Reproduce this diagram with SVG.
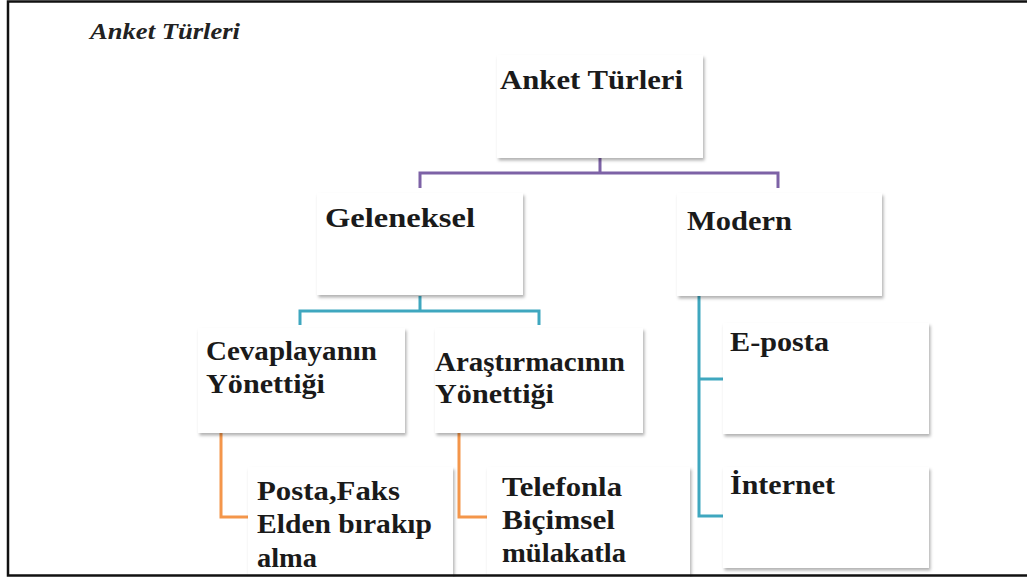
<svg xmlns="http://www.w3.org/2000/svg" width="1027" height="577" viewBox="0 0 1027 577">
<defs>
<filter id="sh" x="-10%" y="-10%" width="125%" height="130%">
<feDropShadow dx="1.5" dy="2.5" stdDeviation="1.8" flood-color="#000" flood-opacity="0.3"/>
</filter>
<style>
.box{fill:#fff;filter:url(#sh)}
.t{font-family:"Liberation Serif","Times New Roman",serif;font-weight:bold;font-size:27px;fill:#1a1a1a}
.ttl{font-family:"Liberation Serif","Times New Roman",serif;font-weight:bold;font-style:italic;font-size:23px;fill:#222}
.c{fill:none;stroke-width:3}
.pu{stroke:#7d62a6}
.tl{stroke:#3fa7bf}
.or{stroke:#f4964a}
</style>
</defs>
<rect width="1027" height="577" fill="#fff"/>
<text class="ttl" x="90" y="39" textLength="150" lengthAdjust="spacingAndGlyphs">Anket Türleri</text>
<g id="connectors">
<path class="c pu" d="M600 158 V173 M420 188 V173 H778 V188"/>
<path class="c tl" d="M420 296 V311 M300 325 V311 H539 V325"/>
<path class="c or" d="M221 433 V517 H248"/>
<path class="c or" d="M459 433 V517 H487"/>
<path class="c tl" d="M699 296 V516 H723 M699 379 H723"/>
</g>
<g id="n-root"><rect class="box" x="497" y="55" width="206" height="103"/><text class="t" x="500" y="89" textLength="183" lengthAdjust="spacingAndGlyphs">Anket Türleri</text></g>
<g id="n-geleneksel"><rect class="box" x="317" y="193" width="206" height="102"/><text class="t" x="325" y="227" textLength="150" lengthAdjust="spacingAndGlyphs">Geleneksel</text></g>
<g id="n-modern"><rect class="box" x="677" y="193" width="205" height="103"/><text class="t" x="687" y="230" textLength="105" lengthAdjust="spacingAndGlyphs">Modern</text></g>
<g id="n-cevaplayan"><rect class="box" x="198" y="328" width="207" height="105"/><text class="t" x="206" y="360" textLength="171" lengthAdjust="spacingAndGlyphs">Cevaplayanın</text><text class="t" x="206" y="393" textLength="119" lengthAdjust="spacingAndGlyphs">Yönettiği</text></g>
<g id="n-arastirmaci"><rect class="box" x="435" y="328" width="208" height="105"/><text class="t" x="435" y="371" textLength="190" lengthAdjust="spacingAndGlyphs">Araştırmacının</text><text class="t" x="435" y="403" textLength="119" lengthAdjust="spacingAndGlyphs">Yönettiği</text></g>
<g id="n-posta"><rect class="box" x="248" y="467" width="205" height="120"/><text class="t" x="257" y="500" textLength="143" lengthAdjust="spacingAndGlyphs">Posta,Faks</text><text class="t" x="257" y="533" textLength="175" lengthAdjust="spacingAndGlyphs">Elden bırakıp</text><text class="t" x="257" y="567" textLength="60" lengthAdjust="spacingAndGlyphs">alma</text></g>
<g id="n-telefon"><rect class="box" x="487" y="467" width="203" height="120"/><text class="t" x="502" y="496" textLength="120" lengthAdjust="spacingAndGlyphs">Telefonla</text><text class="t" x="502" y="529" textLength="113" lengthAdjust="spacingAndGlyphs">Biçimsel</text><text class="t" x="502" y="562" textLength="124" lengthAdjust="spacingAndGlyphs">mülakatla</text></g>
<g id="n-eposta"><rect class="box" x="723" y="323" width="206" height="111"/><text class="t" x="730" y="351" textLength="99" lengthAdjust="spacingAndGlyphs">E-posta</text></g>
<g id="n-internet"><rect class="box" x="723" y="467" width="206" height="101"/><text class="t" x="730" y="494" textLength="105" lengthAdjust="spacingAndGlyphs">İnternet</text></g>
<rect x="0" y="577" width="1027" height="10" fill="#fff"/>
<rect x="0" y="576.8" width="1027" height="0.2" fill="#fff"/>
<g id="frame" fill="none" stroke="#111" stroke-width="2.5">
<path d="M1027 1.5 H8 V575.5 H1027"/>
</g>
</svg>
